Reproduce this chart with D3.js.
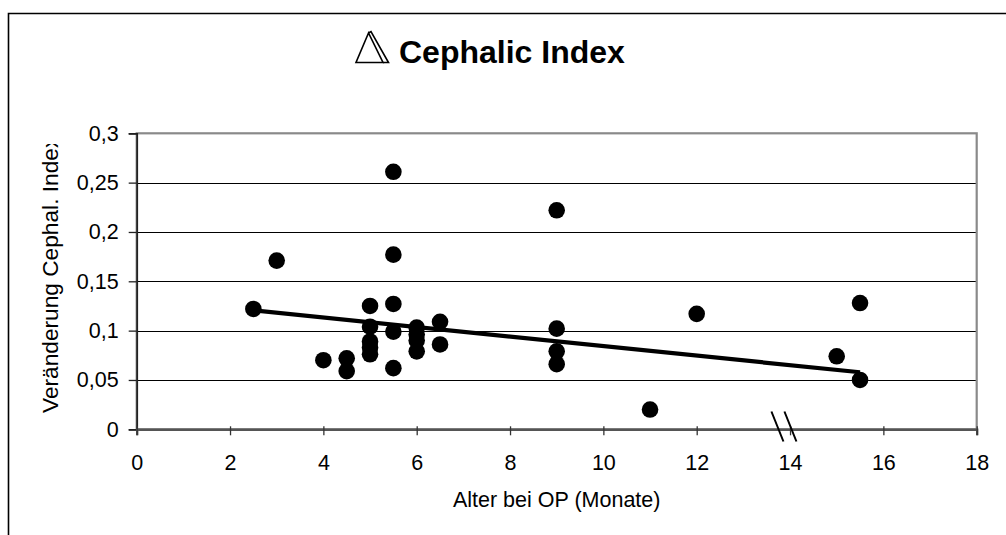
<!DOCTYPE html>
<html>
<head>
<meta charset="utf-8">
<script src="https://cdn.jsdelivr.net/npm/d3@7"></script>
<style>
  body { margin: 0; background: #fff; }
  svg { display: block; }
  text { font-family: "Liberation Sans", Arial, sans-serif; fill: #000; }
</style>
</head>
<body>
<svg id="chart" width="1006" height="535"></svg>
<script>
// Age at operation (months) and change of the cephalic index, one entry per patient
const ageMonths = [
  2.5, 3, 4, 4.5, 4.5,
  5, 5, 5, 5, 5,
  5.5, 5.5, 5.5, 5.5, 5.5,
  6, 6, 6, 6,
  6.5, 6.5,
  9, 9, 9, 9,
  11, 12, 15, 15.5, 15.5
];
const indexChange = [
  0.122, 0.171, 0.070, 0.072, 0.059,
  0.125, 0.104, 0.089, 0.083, 0.076,
  0.261, 0.177, 0.127, 0.099, 0.062,
  0.103, 0.096, 0.090, 0.079,
  0.109, 0.086,
  0.222, 0.102, 0.079, 0.066,
  0.020, 0.117, 0.074, 0.128, 0.050
];

// Linear trend line, start and end
const trendAge = [2.5, 15.5];
const trendChange = [0.1205, 0.0578];

// Axis ticks
const xTicks = [0, 2, 4, 6, 8, 10, 12, 14, 16, 18];
const yTicks = [0, 0.05, 0.1, 0.15, 0.2, 0.25, 0.3];
const yTickLabels = ["0", "0,05", "0,1", "0,15", "0,2", "0,25", "0,3"];

// Position of the axis break marker (months)
const axisBreakAt = 13.73;

const titleText = "Cephalic Index";
const xTitle = "Alter bei OP (Monate)";
const yTitle = "Veränderung Cephal. Index";

const svg = d3.select("#chart");

const plot = { left: 136.7, right: 976.7, top: 133.3, bottom: 429.3 };
const labelSize = 21.5;

const x = d3.scaleLinear().domain([0, 18]).range([plot.left, plot.right]);
const y = d3.scaleLinear().domain([0, 0.3]).range([plot.bottom, plot.top]);

// Outer chart frame (runs off the right and bottom edges)
svg.append("path")
  .attr("d", "M8.5,540 L8.5,13.5 L1010,13.5")
  .attr("fill", "none")
  .attr("stroke", "#000")
  .attr("stroke-width", 1.6);

// Title with triangle symbol
const titleG = svg.append("g");
titleG.append("path")
  .attr("d", "M368.5,33 L356,62.5 L383,62.5 Z")
  .attr("fill", "none").attr("stroke", "#000").attr("stroke-width", 1.6)
  .attr("stroke-linejoin", "miter");
titleG.append("path")
  .attr("d", "M368.5,33 L371,31.5 L388.5,62.5 L383,62.5")
  .attr("fill", "none").attr("stroke", "#000").attr("stroke-width", 1.6);
titleG.append("text")
  .attr("x", 399).attr("y", 63)
  .attr("font-size", 32).attr("font-weight", "bold")
  .text(titleText);

// Horizontal gridlines
svg.append("g")
  .selectAll("line")
  .data(yTicks.filter(d => d > 0 && d < 0.3))
  .join("line")
  .attr("x1", plot.left).attr("x2", plot.right)
  .attr("y1", d => Math.round(y(d)) + 0.5).attr("y2", d => Math.round(y(d)) + 0.5)
  .attr("stroke", "#000").attr("stroke-width", 1);

// Plot area border
svg.append("rect")
  .attr("x", plot.left).attr("y", plot.top)
  .attr("width", plot.right - plot.left).attr("height", plot.bottom - plot.top)
  .attr("fill", "none").attr("stroke", "#8a8a8a").attr("stroke-width", 2.2);

// Y axis
const yAxis = svg.append("g")
  .attr("transform", `translate(${plot.left},0)`)
  .call(d3.axisLeft(y).tickValues(yTicks).tickSize(8).tickPadding(10)
    .tickFormat((d, i) => yTickLabels[i]));
yAxis.select(".domain").attr("stroke", "#222").attr("stroke-width", 1.8);
yAxis.selectAll(".tick line").attr("stroke", "#222").attr("stroke-width", 1.3);
yAxis.selectAll("text").attr("font-size", labelSize).attr("font-family", "Liberation Sans, Arial, sans-serif");

// X axis
const xAxis = svg.append("g")
  .attr("transform", `translate(0,${plot.bottom})`)
  .call(d3.axisBottom(x).tickValues(xTicks).tickSize(6).tickPadding(19)
    .tickFormat(d3.format("d")));
xAxis.select(".domain").attr("stroke", "#555").attr("stroke-width", 2.4);
xAxis.selectAll(".tick line").attr("stroke", "#333").attr("stroke-width", 1.3).attr("y1", -3);
xAxis.selectAll("text").attr("font-size", labelSize).attr("font-family", "Liberation Sans, Arial, sans-serif");

// Axis titles
svg.append("text")
  .attr("x", (plot.left + plot.right) / 2).attr("y", 507)
  .attr("text-anchor", "middle").attr("font-size", labelSize)
  .text(xTitle);

// The y title is longer than the space above the axis and is cut at the top
svg.append("clipPath").attr("id", "ytitle-clip")
  .append("rect").attr("x", 0).attr("y", 144).attr("width", 120).attr("height", 300);
svg.append("g").attr("clip-path", "url(#ytitle-clip)")
  .append("text")
  .attr("transform", "translate(58,413) rotate(-90)")
  .attr("text-anchor", "start").attr("font-size", 22.7)
  .text(yTitle);

// Axis break marker
const bx = x(axisBreakAt);
const breakG = svg.append("g");
[0, 13].forEach(off => {
  breakG.append("line")
    .attr("x1", bx + off - 6).attr("y1", 411.5)
    .attr("x2", bx + off + 6).attr("y2", 441.5)
    .attr("stroke", "#000").attr("stroke-width", 2);
});

// Trend line
const trend = trendAge.map((a, i) => [a, trendChange[i]]);
svg.append("path")
  .datum(trend)
  .attr("d", d3.line().x(d => x(d[0])).y(d => y(d[1])))
  .attr("fill", "none").attr("stroke", "#000").attr("stroke-width", 4.2);

// Data points
svg.append("g")
  .selectAll("circle")
  .data(ageMonths.map((a, i) => [a, indexChange[i]]))
  .join("circle")
  .attr("cx", d => x(d[0])).attr("cy", d => y(d[1]))
  .attr("r", 8.3)
  .attr("fill", "#000");
</script>
</body>
</html>
